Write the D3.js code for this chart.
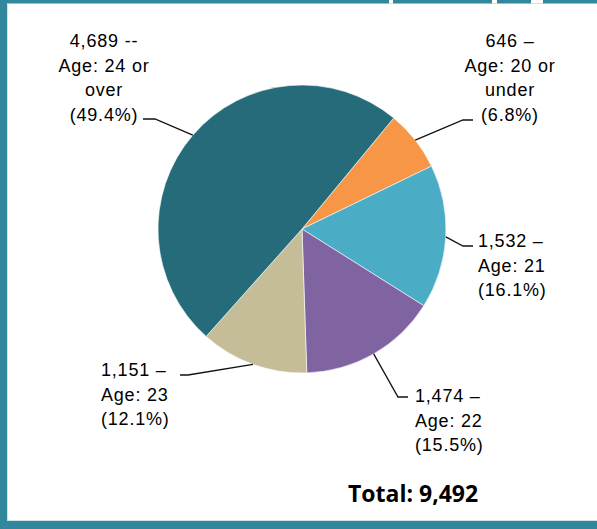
<!DOCTYPE html>
<html>
<head>
<meta charset="utf-8">
<script src="https://cdn.jsdelivr.net/npm/d3@7"></script>
<style>
  body { margin: 0; background: #fff; }
  svg { display: block; }
</style>
</head>
<body>
<div id="chart"></div>
<script>
// slice data, clockwise from the orange one
var categories = ["20 or under", "21", "22", "23", "24 or over"];
var counts = [646, 1532, 1474, 1151, 4689];
var dashes = ["\u2013", "\u2013", "\u2013", "\u2013", "--"];
var colors = ["#f79646", "#4bacc6", "#8064a2", "#c4bd97", "#266b7a"];
// how the "Age: ..." part breaks over lines
var ageLines = [["Age: 20 or", "under"], ["Age: 21"], ["Age: 22"], ["Age: 23"], ["Age: 24 or", "over"]];

var width = 597, height = 529;
var cx = 302, cy = 229, radius = 144;
var lineGap = 24.5;

// label placement: elbow of leader, end of leader, text anchor
var labelPos = [
  {elbow: [463, 120], end: [473, 120], x: 510, y: 47, anchor: "middle"},
  {elbow: [463, 246], end: [473, 246], x: 478, y: 247, anchor: "start"},
  {elbow: [398, 397], end: [408, 397], x: 415, y: 402, anchor: "start"},
  {elbow: [188, 375], end: [180, 375], x: 101, y: 376, anchor: "start"},
  {elbow: [155, 119], end: [143, 119], x: 104, y: 47, anchor: "middle"}
];

var total = d3.sum(counts);
var fmt = d3.format(",");
var pct = d3.format(".1%");

var svg = d3.select("#chart").append("svg")
  .attr("width", width)
  .attr("height", height);

svg.append("rect").attr("width", width).attr("height", height).attr("fill", "#fff");

// frame (left, top and bottom only)
var frame = "#31889d";
svg.append("rect").attr("x", 0).attr("y", 0).attr("width", width).attr("height", 3.5).attr("fill", frame);
svg.append("rect").attr("x", 0).attr("y", 0).attr("width", 7).attr("height", height).attr("fill", frame);
svg.append("rect").attr("x", 0).attr("y", 521).attr("width", width).attr("height", 8).attr("fill", frame);
svg.append("rect").attr("x", 7).attr("y", 3.5).attr("width", 1).attr("height", 517.5).attr("fill", "#cfe3ea");
svg.append("rect").attr("x", 7).attr("y", 520).attr("width", width).attr("height", 1).attr("fill", "#cfe3ea");
// little breaks in the top edge
[[389, 4], [492, 5], [531, 12]].forEach(function(g){
  svg.append("rect").attr("x", g[0]).attr("y", 0).attr("width", g[1]).attr("height", 3.5).attr("fill", "#fff");
});

var start = 0.691;
var pie = d3.pie().sort(null).startAngle(start).endAngle(start + 2 * Math.PI);
var arcs = pie(counts);

var arc = d3.arc().innerRadius(0).outerRadius(radius);
var edge = d3.arc().innerRadius(radius).outerRadius(radius);

var g = svg.append("g").attr("transform", "translate(" + cx + "," + cy + ")");

g.selectAll("path.slice")
  .data(arcs)
  .enter()
  .append("path")
    .attr("class", "slice")
    .attr("d", arc)
    .attr("fill", function(d, i){ return colors[i]; })
    .attr("stroke", "#fff")
    .attr("stroke-width", 0.6);

// leader lines
svg.selectAll("polyline")
  .data(arcs)
  .enter()
  .append("polyline")
    .attr("points", function(d, i){
      var c = edge.centroid(d);
      var p = labelPos[i];
      return [[cx + c[0], cy + c[1]], p.elbow, p.end].join(" ");
    })
    .attr("fill", "none")
    .attr("stroke", "#111")
    .attr("stroke-width", 1.3);

// labels
arcs.forEach(function(d, i){
  var p = labelPos[i];
  var lines = [fmt(counts[i]) + " " + dashes[i]].concat(ageLines[i]).concat(["(" + pct(counts[i] / total) + ")"]);
  var t = svg.append("text")
    .attr("x", p.x)
    .attr("y", p.y)
    .attr("text-anchor", p.anchor)
    .attr("font-family", "'Liberation Sans', Arial, sans-serif")
    .attr("font-size", 18)
    .attr("letter-spacing", 0.8)
    .attr("fill", "#000");
  lines.forEach(function(l, j){
    t.append("tspan")
      .attr("x", p.x)
      .attr("y", p.y + j * lineGap)
      .text(l);
  });
});

svg.append("text")
  .attr("x", 348)
  .attr("y", 502)
  .attr("font-family", "'Open Sans', sans-serif")
  .attr("font-weight", "bold")
  .attr("font-size", 23)
  .attr("fill", "#000")
  .text("Total: " + fmt(total));
</script>
</body>
</html>
